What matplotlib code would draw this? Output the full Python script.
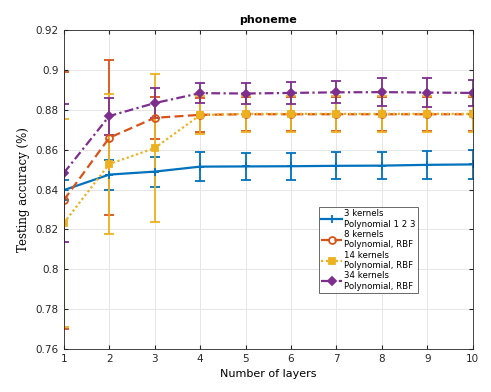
import numpy as np
import matplotlib.pyplot as plt
from matplotlib.lines import Line2D

# --- DATA ---
layers = np.arange(1, 11)

acc_3k = [0.8397, 0.8475, 0.849, 0.8515, 0.8516, 0.8517, 0.8519, 0.852, 0.8524, 0.8526]
err_3k = [0.005, 0.0075, 0.0075, 0.0072, 0.0068, 0.0068, 0.0068, 0.0068, 0.0070, 0.0072]

acc_8k = [0.8347, 0.866, 0.876, 0.8775, 0.8778, 0.8778, 0.8778, 0.8778, 0.8778, 0.8778]
err_8k = [0.0645, 0.039, 0.0105, 0.0085, 0.0085, 0.0085, 0.0085, 0.0085, 0.0085, 0.0085]

acc_14k = [0.8232, 0.8528, 0.8608, 0.8774, 0.878, 0.878, 0.878, 0.878, 0.878, 0.878]
err_14k = [0.052, 0.035, 0.037, 0.0095, 0.009, 0.009, 0.009, 0.009, 0.009, 0.009]

acc_34k = [0.8483, 0.8769, 0.8834, 0.8884, 0.8882, 0.8885, 0.8888, 0.8889, 0.8887, 0.8885]
err_34k = [0.0345, 0.0093, 0.0075, 0.005, 0.0053, 0.0055, 0.0055, 0.007, 0.0075, 0.0065]

labels = ["3 kernels\nPolynomial 1 2 3",
          "8 kernels\nPolynomial, RBF",
          "14 kernels\nPolynomial, RBF",
          "34 kernels\nPolynomial, RBF"]

# --- FIGURE ---
fig = plt.figure(figsize=(4.91, 3.92), dpi=100)
ax = fig.add_axes([0.130, 0.110, 0.833, 0.813])

blue, orange, yellow, purple = '#0072BD', '#D95319', '#EDB120', '#7E2F8E'
styles = [
    dict(color=blue, ls='-', marker='+', ms=6, mfc=blue),
    dict(color=orange, ls=(0, (4, 2)), marker='o', ms=5, mfc='none'),
    dict(color=yellow, ls=(0, (1, 1.2)), marker='s', ms=4.5, mfc=yellow),
    dict(color=purple, ls=(0, (4, 1.5, 1, 1.5)), marker='D', ms=4.5, mfc=purple),
]
series = [(acc_3k, err_3k), (acc_8k, err_8k), (acc_14k, err_14k), (acc_34k, err_34k)]

handles = []
for (acc, err), st, lab in zip(series, styles, labels):
    ax.errorbar(layers, acc, yerr=err, lw=1.6, mew=1.3, capsize=3.5,
                elinewidth=1.3, capthick=1.3, **st)
    handles.append(Line2D([], [], lw=1.6, mew=1.3, **st))

ax.set_xlim(1, 10)
ax.set_ylim(0.76, 0.92)
ax.set_xticks(layers)
ax.set_yticks(np.arange(0.76, 0.921, 0.02))
ax.set_yticklabels(['0.76', '0.78', '0.8', '0.82', '0.84', '0.86', '0.88', '0.9', '0.92'])
ax.tick_params(direction='in', labelsize=7.5, length=3, top=True, right=True,
               colors='#262626')
ax.grid(True, color='#e6e6e6', lw=0.7)
ax.set_axisbelow(True)
for s in ax.spines.values():
    s.set_color('#262626')
    s.set_linewidth(0.6)

ax.set_title('phoneme', fontsize=8, fontweight='bold', pad=5)
ax.set_xlabel('Number of layers', fontsize=8)
ax.set_ylabel('Testing accuracy (%)', fontsize=8.5, family='DejaVu Serif')

leg = ax.legend(handles, labels, loc='upper left', bbox_to_anchor=(0.624, 0.445),
                fontsize=6.2, frameon=True, fancybox=False, edgecolor='#262626',
                handlelength=2.4, labelspacing=0.15, borderpad=0.25,
                handletextpad=0.3, borderaxespad=0)
leg.get_frame().set_linewidth(0.6)

fig.savefig('out.png', dpi=100)
